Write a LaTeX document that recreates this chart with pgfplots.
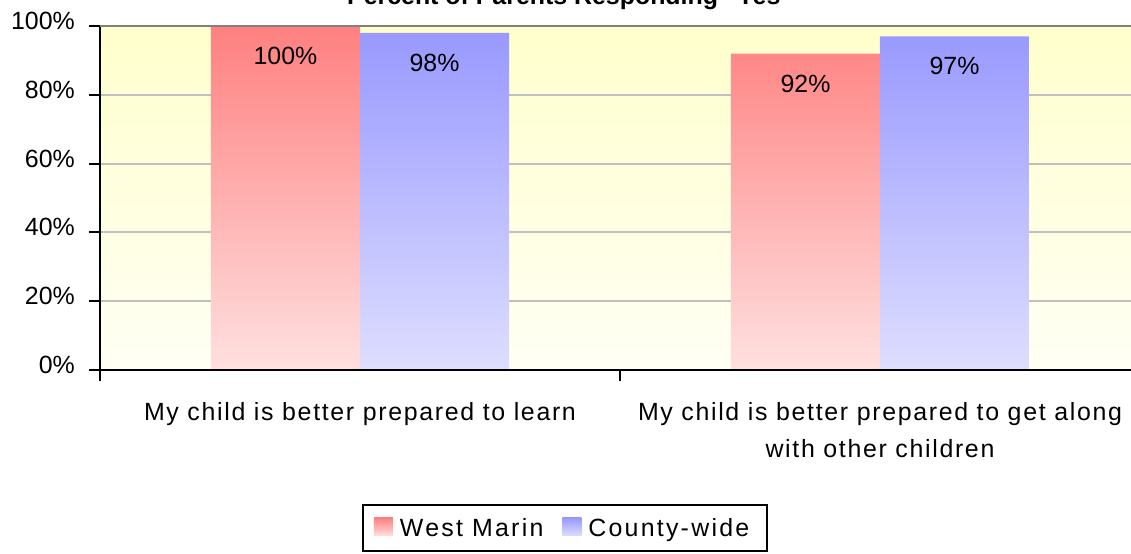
\documentclass[border=0pt]{standalone}
\usepackage{fontspec}
\setmainfont{Liberation Sans}
\newfontfamily\spaced{Liberation Sans}[LetterSpace=6.7]
\newfontfamily\legspaced{Liberation Sans}[LetterSpace=9]
\usepackage{pgfplots}
\pgfplotsset{compat=1.18}
\definecolor{redtop}{RGB}{255,128,128}
\definecolor{redbot}{RGB}{255,224,224}
\definecolor{bluetop}{RGB}{153,153,255}
\definecolor{bluebot}{RGB}{222,222,255}
\definecolor{bgtop}{RGB}{255,255,204}
\definecolor{bgbot}{RGB}{255,255,244}
\definecolor{gridc}{RGB}{192,192,192}
\definecolor{topgrid}{RGB}{128,128,128}
\begin{document}
\begin{tikzpicture}
\begin{axis}[
  scale only axis, width=1040bp, height=344bp,
  xmin=0, xmax=2, ymin=0, ymax=100,
  axis x line=bottom, axis y line=left,
  axis line style={-, black, line width=2.5bp},
  tick align=outside, major tick length=11bp,
  tick style={black, line width=2bp},
  xtick={0,1,2}, xticklabels={},
  extra x ticks={0.5,1.5},
  extra x tick labels={My child is better prepared to learn, {My child is better prepared to get along\\with other children}},
  extra x tick style={major tick length=0pt, grid=none,
    tick label style={font=\spaced\fontsize{25}{37}\selectfont, align=center, anchor=north, inner sep=0pt, yshift=-32bp}},
  ytick={0,20,...,100},
  yticklabel={\pgfmathprintnumber{\tick}\%},
  /pgf/number format/assume math mode=true,
  yticklabel style={font=\fontsize{25}{28}\selectfont, anchor=east, inner sep=0pt, xshift=-14bp, yshift=5bp},
  ymajorgrids, grid style={gridc, line width=2bp},
  axis background/.style={top color=bgtop, bottom color=bgbot},
  ybar=0pt, bar width=149bp,
  nodes near coords={\pgfmathprintnumber{\pgfplotspointmeta}\%},
  nodes near coords align={below},
  every node near coord/.append style={font=\fontsize{25}{28}\selectfont, black, inner sep=0pt, anchor=north, yshift=-21bp},
  legend style={at={(axis description cs:0.2519,-0.3895)}, anchor=north west,
    legend columns=2, draw=black, line width=2bp,
    font=\legspaced\fontsize{25}{28}\selectfont, inner xsep=11bp, inner ysep=13bp,
    nodes={inner sep=0pt},
    /tikz/every odd column/.append style={column sep=7bp},
    /tikz/every even column/.append style={column sep=19bp}},
  legend cell align=left,
  clip=false,
]
\addplot[draw=none, top color=redtop, bottom color=redbot,
  legend image code/.code={\shade[top color=redtop, bottom color=redbot] (0bp,-7.5bp) rectangle (19bp,10.5bp);}]
  coordinates {(0.5,100) (1.5,92)};
\addlegendentry{West Marin}
\addplot[draw=none, top color=bluetop, bottom color=bluebot,
  legend image code/.code={\shade[top color=bluetop, bottom color=bluebot] (0bp,-7.5bp) rectangle (19bp,10.5bp);}]
  coordinates {(0.5,98) (1.5,97)};
\addlegendentry{County-wide\rule{7bp}{0pt}}
\draw[topgrid, line width=2bp] (rel axis cs:0,1) -- (rel axis cs:1,1);
\draw[black, line width=2.5bp] (rel axis cs:0,0) -- (rel axis cs:1,0);
\coordinate (O) at (rel axis cs:0,0);
\end{axis}
\node[font=\bfseries\fontsize{25}{28}\selectfont, anchor=base] at ([shift={(470bp,365bp)}]O) {Percent of Parents Responding "Yes"};
\pgfresetboundingbox
\path[use as bounding box] ([shift={(-100bp,-184bp)}]O) rectangle ([shift={(1031bp,370bp)}]O);
\end{tikzpicture}
\end{document}
